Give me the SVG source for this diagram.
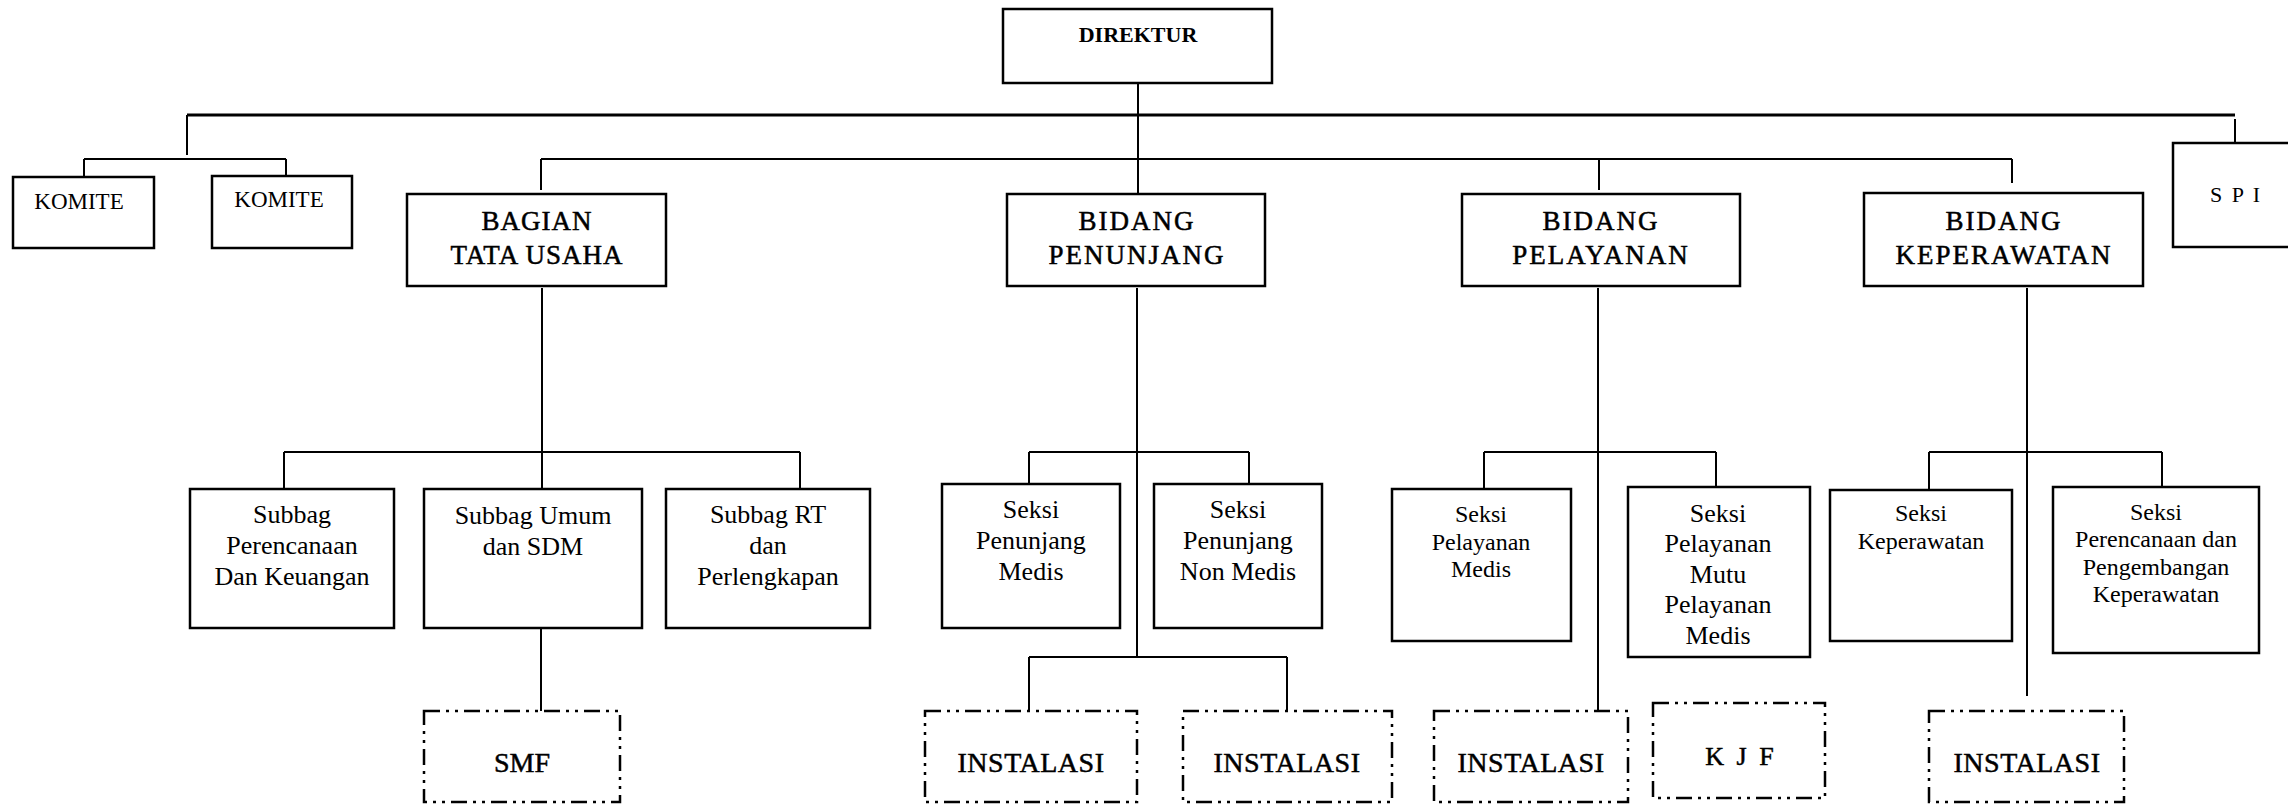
<svg xmlns="http://www.w3.org/2000/svg" width="2288" height="804" viewBox="0 0 2288 804">
<style>
.box{fill:#fff;stroke:#000;stroke-width:2.5}
.dbox{fill:#fff;stroke:#000;stroke-width:2.5;stroke-dasharray:16 6 3 6 3 6}
.ln{fill:none;stroke:#000;stroke-width:2}
.t{font-family:"Liberation Serif","Times New Roman",serif;fill:#000;text-anchor:middle}
.hv{stroke:#000;stroke-width:0.5}
.big{font-size:27px;letter-spacing:2px}
.s26{font-size:26px}
.s24{font-size:24px}
.inst{font-size:28px;letter-spacing:0.5px}
</style>
<g id="connectors">
<path class="ln" style="stroke-width:2.8" d="M187,115 H2235"/>
<path class="ln" d="M187,115 V155 M84,159 H286 M84,159 V177 M286,159 V176"/>
<path class="ln" d="M2235,119 V144"/>
<path class="ln" d="M1138,83 V194"/>
<path class="ln" d="M541,159 H2012 M541,159 V190 M1599,159 V190 M2012,159 V183"/>
<path class="ln" d="M542,288 V489 M284,452 H800 M284,452 V489 M800,452 V489"/>
<path class="ln" d="M541,628 V711"/>
<path class="ln" d="M1137,288 V657 M1029,452 H1249 M1029,452 V484 M1249,452 V484"/>
<path class="ln" d="M1029,657 H1287 M1029,657 V711 M1287,657 V711"/>
<path class="ln" d="M1598,288 V711 M1484,452 H1716 M1484,452 V489 M1716,452 V487"/>
<path class="ln" d="M2027,288 V696 M1929,452 H2162 M1929,452 V490 M2162,452 V487"/>
</g>
<g id="direktur"><rect class="box" x="1003" y="9" width="269" height="74"/><text class="t" x="1138" y="42" font-size="22" font-weight="bold">DIREKTUR</text></g>
<g id="komite1"><rect class="box" x="13" y="177" width="141" height="71"/><text class="t" x="79" y="209" font-size="23">KOMITE</text></g>
<g id="komite2"><rect class="box" x="212" y="176" width="140" height="72"/><text class="t" x="279" y="207" font-size="23">KOMITE</text></g>
<g id="spi"><rect class="box" x="2173" y="143" width="130" height="104"/><text class="t" x="2236" y="202" font-size="22" letter-spacing="2">S P I</text></g>
<g id="bagian-tata-usaha"><rect class="box" x="407" y="194" width="259" height="92"/><text class="t hv" x="537" y="230" font-size="27" letter-spacing="1">BAGIAN</text><text class="t hv" x="537" y="264" font-size="27" letter-spacing="1">TATA USAHA</text></g>
<g id="bidang-penunjang"><rect class="box" x="1007" y="194" width="258" height="92"/><text class="t big hv" x="1137" y="230">BIDANG</text><text class="t big hv" x="1137" y="264">PENUNJANG</text></g>
<g id="bidang-pelayanan"><rect class="box" x="1462" y="194" width="278" height="92"/><text class="t big hv" x="1601" y="230">BIDANG</text><text class="t big hv" x="1601" y="264">PELAYANAN</text></g>
<g id="bidang-keperawatan"><rect class="box" x="1864" y="193" width="279" height="93"/><text class="t big hv" x="2004" y="230">BIDANG</text><text class="t big hv" x="2004" y="264">KEPERAWATAN</text></g>
<g id="subbag-perencanaan"><rect class="box" x="190" y="489" width="204" height="139"/><text class="t s26" x="292" y="523">Subbag</text><text class="t s26" x="292" y="554">Perencanaan</text><text class="t s26" x="292" y="585">Dan Keuangan</text></g>
<g id="subbag-umum"><rect class="box" x="424" y="489" width="218" height="139"/><text class="t s26" x="533" y="524">Subbag Umum</text><text class="t s26" x="533" y="555">dan SDM</text></g>
<g id="subbag-rt"><rect class="box" x="666" y="489" width="204" height="139"/><text class="t s26" x="768" y="523">Subbag RT</text><text class="t s26" x="768" y="554">dan</text><text class="t s26" x="768" y="585">Perlengkapan</text></g>
<g id="seksi-penunjang-medis"><rect class="box" x="942" y="484" width="178" height="144"/><text class="t s26" x="1031" y="518">Seksi</text><text class="t s26" x="1031" y="549">Penunjang</text><text class="t s26" x="1031" y="580">Medis</text></g>
<g id="seksi-penunjang-non-medis"><rect class="box" x="1154" y="484" width="168" height="144"/><text class="t s26" x="1238" y="518">Seksi</text><text class="t s26" x="1238" y="549">Penunjang</text><text class="t s26" x="1238" y="580">Non Medis</text></g>
<g id="seksi-pelayanan-medis"><rect class="box" x="1392" y="489" width="179" height="152"/><text class="t s24" x="1481" y="522">Seksi</text><text class="t s24" x="1481" y="550">Pelayanan</text><text class="t s24" x="1481" y="577">Medis</text></g>
<g id="seksi-pelayanan-mutu"><rect class="box" x="1628" y="487" width="182" height="170"/><text class="t s26" x="1718" y="522">Seksi</text><text class="t s26" x="1718" y="552">Pelayanan</text><text class="t s26" x="1718" y="583">Mutu</text><text class="t s26" x="1718" y="613">Pelayanan</text><text class="t s26" x="1718" y="644">Medis</text></g>
<g id="seksi-keperawatan"><rect class="box" x="1830" y="490" width="182" height="151"/><text class="t s24" x="1921" y="521">Seksi</text><text class="t s24" x="1921" y="549">Keperawatan</text></g>
<g id="seksi-perencanaan-keperawatan"><rect class="box" x="2053" y="487" width="206" height="166"/><text class="t s24" x="2156" y="520">Seksi</text><text class="t s24" x="2156" y="547">Perencanaan dan</text><text class="t s24" x="2156" y="575">Pengembangan</text><text class="t s24" x="2156" y="602">Keperawatan</text></g>
<g id="smf"><rect class="dbox" x="424" y="711" width="196" height="91"/><text class="t hv" x="522" y="772" font-size="28">SMF</text></g>
<g id="instalasi-1"><rect class="dbox" x="925" y="711" width="212" height="91"/><text class="t inst hv" x="1031" y="772">INSTALASI</text></g>
<g id="instalasi-2"><rect class="dbox" x="1183" y="711" width="209" height="91"/><text class="t inst hv" x="1287" y="772">INSTALASI</text></g>
<g id="instalasi-3"><rect class="dbox" x="1434" y="711" width="194" height="91"/><text class="t inst hv" x="1531" y="772">INSTALASI</text></g>
<g id="kjf"><rect class="dbox" x="1653" y="703" width="172" height="95"/><text class="t hv" x="1741" y="765" font-size="26" letter-spacing="3">K J F</text></g>
<g id="instalasi-4"><rect class="dbox" x="1929" y="711" width="195" height="91"/><text class="t inst hv" x="2027" y="772">INSTALASI</text></g>
</svg>
